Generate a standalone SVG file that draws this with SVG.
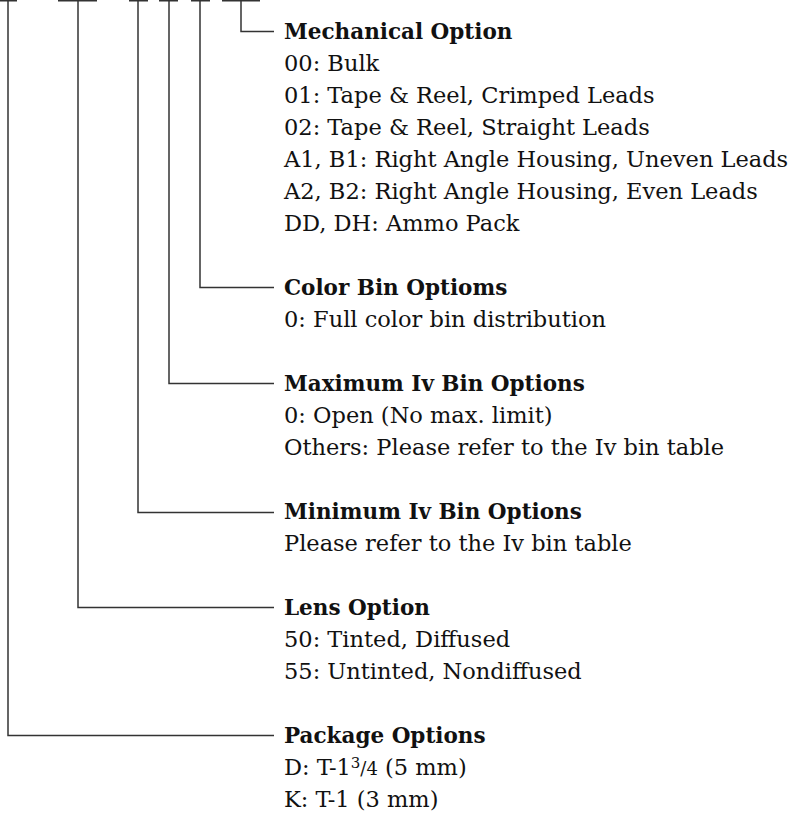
<svg xmlns="http://www.w3.org/2000/svg" width="792" height="813" viewBox="0 0 792 813">
<style>
  .bg { fill: #ffffff; }
  .ln { fill: none; stroke: #333333; stroke-width: 1.5; }
  text { font-family: "DejaVu Serif", "Liberation Serif", serif; font-size: 22.5px; fill: #111111; }
  .t { font-weight: bold; font-size: 21.5px; }
</style>
<rect class="bg" x="0" y="0" width="792" height="813"/>
<g id="connectors">
  <path class="ln" d="M0 0.75 H17 M58 0.75 H97 M129 0.75 H148 M159 0.75 H178 M191 0.75 H210 M222 0.75 H260"/>
  <path class="ln" d="M241 0 V31.5 H274"/>
  <path class="ln" d="M200 0 V287.5 H274"/>
  <path class="ln" d="M169 0 V383.5 H274"/>
  <path class="ln" d="M138 0 V512.5 H274"/>
  <path class="ln" d="M78 0 V607.5 H274"/>
  <path class="ln" d="M8 0 V735.5 H274"/>
</g>
<g id="mechanical">
  <text class="t" x="284" y="38.5">Mechanical Option</text>
  <text x="284" y="70.5">00: Bulk</text>
  <text x="284" y="102.5">01: Tape &amp; Reel, Crimped Leads</text>
  <text x="284" y="134.5">02: Tape &amp; Reel, Straight Leads</text>
  <text x="284" y="166.5">A1, B1: Right Angle Housing, Uneven Leads</text>
  <text x="284" y="198.5">A2, B2: Right Angle Housing, Even Leads</text>
  <text x="284" y="230.5">DD, DH: Ammo Pack</text>
</g>
<g id="color-bin">
  <text class="t" x="284" y="294.5">Color Bin Optioms</text>
  <text x="284" y="326.5">0: Full color bin distribution</text>
</g>
<g id="max-iv">
  <text class="t" x="284" y="390.5">Maximum Iv Bin Options</text>
  <text x="284" y="422.5">0: Open (No max. limit)</text>
  <text x="284" y="454.5">Others: Please refer to the Iv bin table</text>
</g>
<g id="min-iv">
  <text class="t" x="284" y="518.5">Minimum Iv Bin Options</text>
  <text x="284" y="550.5">Please refer to the Iv bin table</text>
</g>
<g id="lens">
  <text class="t" x="284" y="614.5">Lens Option</text>
  <text x="284" y="646.5">50: Tinted, Diffused</text>
  <text x="284" y="678.5">55: Untinted, Nondiffused</text>
</g>
<g id="package">
  <text class="t" x="284" y="742.5">Package Options</text>
  <text x="284" y="774.5">D: T-1<tspan font-size="15" dy="-7">3</tspan><tspan font-size="18" dy="7">/4</tspan> (5 mm)</text>
  <text x="284" y="806.5">K: T-1 (3 mm)</text>
</g>
</svg>
